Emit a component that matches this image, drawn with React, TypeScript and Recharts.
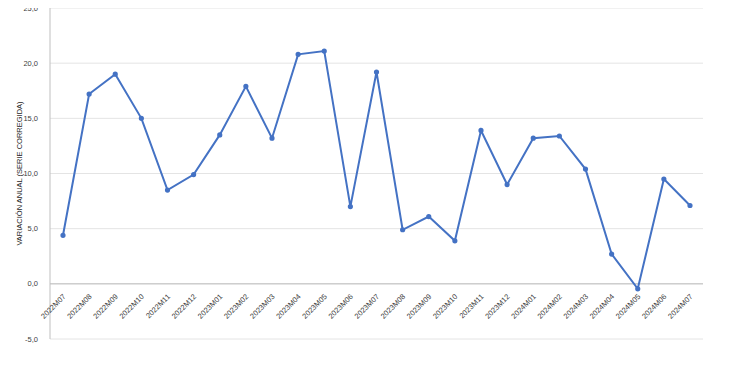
import React from "react";
import { LineChart, Line, XAxis, YAxis, CartesianGrid, ReferenceLine } from "recharts";

const periods = [
  "2022M07", "2022M08", "2022M09", "2022M10", "2022M11", "2022M12",
  "2023M01", "2023M02", "2023M03", "2023M04", "2023M05", "2023M06",
  "2023M07", "2023M08", "2023M09", "2023M10", "2023M11", "2023M12",
  "2024M01", "2024M02", "2024M03", "2024M04", "2024M05", "2024M06", "2024M07",
];

const variation = [
  4.4, 17.2, 19.0, 15.0, 8.5, 9.9,
  13.5, 17.9, 13.2, 20.8, 21.1, 7.0,
  19.2, 4.9, 6.1, 3.9, 13.9, 9.0,
  13.2, 13.4, 10.4, 2.7, -0.45, 9.5, 7.1,
];

const yTicks = [-5, 0, 5, 10, 15, 20, 25];

const data = periods.map((p, i) => ({ period: p, value: variation[i] }));

const blue = "#4472c4";
const font = "'Liberation Sans', Arial, sans-serif";

// tick labels sit just under the zero line, not at the plot bottom
function PeriodTick(props: any) {
  const { x, y, payload } = props;
  return (
    <g transform={`translate(${x + 1},${y - 52})`}>
      <text transform="rotate(-45)" textAnchor="end" fontSize={7.5} fill="#404040" fontFamily={font} dy={3}>
        {payload.value}
      </text>
    </g>
  );
}

function YLabel(props: any) {
  const { viewBox } = props;
  const cy = viewBox.y + viewBox.height / 2;
  return (
    <text x={22} y={cy} transform={`rotate(-90, 22, ${cy})`} textAnchor="middle" fontSize={7.5} fill="#262626" fontFamily={font}>
      VARIACIÓN ANUAL (SERIE CORREGIDA)
    </text>
  );
}

export default function App() {
  return (
    <div style={{ margin: -8, background: "#fff", width: 747, height: 371 }}>
      <LineChart width={747} height={371} data={data} margin={{ top: 8, right: 44, left: 0, bottom: 2 }}>
        <CartesianGrid horizontal vertical={false} stroke="#e4e4e4" />
        <XAxis
          dataKey="period"
          height={30}
          axisLine={false}
          tickLine={false}
          interval={0}
          padding={{ left: 13, right: 13 }}
          tick={<PeriodTick />}
        />
        <YAxis
          width={50}
          domain={[-5, 25]}
          ticks={yTicks}
          interval={0}
          tickFormatter={(v) => v.toFixed(1).replace(".", ",")}
          tick={{ fontSize: 7.5, fill: "#404040", fontFamily: font }}
          tickLine={false}
          axisLine={{ stroke: "#bfbfbf" }}
          tickMargin={6}
          label={<YLabel />}
        />
        <ReferenceLine y={0} stroke="#bfbfbf" strokeWidth={1} />
        <Line
          type="linear"
          dataKey="value"
          stroke={blue}
          strokeWidth={2}
          dot={{ r: 1.6, fill: blue, stroke: blue }}
          isAnimationActive={false}
        />
      </LineChart>
    </div>
  );
}
